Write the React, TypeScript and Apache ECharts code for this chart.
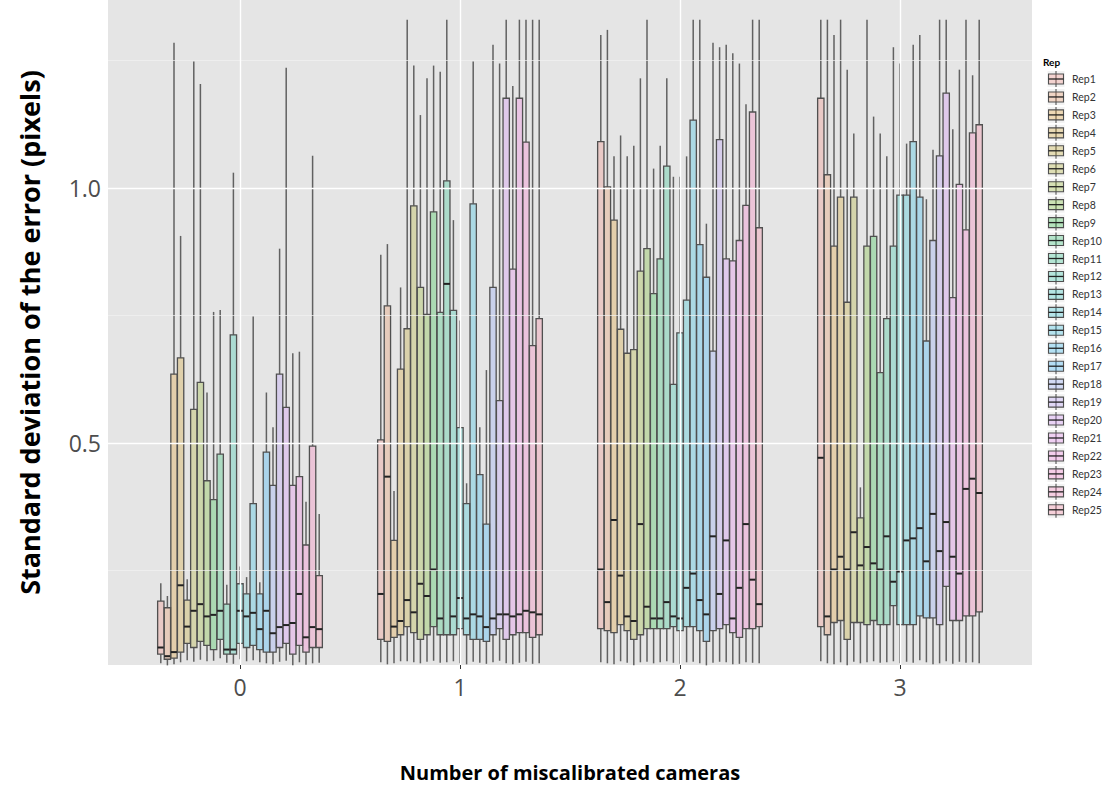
import React, { useEffect, useRef } from "react";
import * as echarts from "echarts";

// ---------- data ----------
const CATEGORIES = ["0", "1", "2", "3"];
const REPS = [
  "Rep1", "Rep2", "Rep3", "Rep4", "Rep5", "Rep6", "Rep7", "Rep8", "Rep9", "Rep10",
  "Rep11", "Rep12", "Rep13", "Rep14", "Rep15", "Rep16", "Rep17", "Rep18", "Rep19", "Rep20",
  "Rep21", "Rep22", "Rep23", "Rep24", "Rep25",
];
const X_TICKS = [0, 1, 2, 3];
const Y_TICKS = [0.5, 1.0];
const Y_MINOR = [0.25, 0.75, 1.25];

// [lower whisker, Q1, median, Q3, upper whisker] per Rep
const GROUP0_STATS = [
  [0.068, 0.086, 0.099, 0.190, 0.225],
  [0.064, 0.076, 0.082, 0.177, 0.200],
  [0.066, 0.078, 0.090, 0.635, 1.285],
  [0.070, 0.090, 0.221, 0.667, 0.906],
  [0.074, 0.107, 0.140, 0.192, 0.233],
  [0.071, 0.099, 0.171, 0.566, 1.248],
  [0.075, 0.111, 0.184, 0.619, 1.204],
  [0.072, 0.103, 0.160, 0.426, 0.599],
  [0.073, 0.095, 0.163, 0.389, 0.757],
  [0.078, 0.115, 0.171, 0.478, 0.761],
  [0.069, 0.086, 0.095, 0.184, 0.222],
  [0.067, 0.086, 0.095, 0.712, 1.030],
  [0.076, 0.107, 0.171, 0.224, 0.258],
  [0.072, 0.099, 0.160, 0.204, 0.237],
  [0.074, 0.103, 0.167, 0.381, 0.748],
  [0.070, 0.095, 0.135, 0.204, 0.227],
  [0.068, 0.090, 0.171, 0.482, 0.599],
  [0.066, 0.090, 0.127, 0.417, 0.531],
  [0.071, 0.099, 0.139, 0.635, 0.881],
  [0.073, 0.107, 0.143, 0.570, 1.236],
  [0.064, 0.086, 0.147, 0.417, 0.676],
  [0.070, 0.103, 0.204, 0.434, 0.679],
  [0.065, 0.090, 0.119, 0.300, 0.385],
  [0.068, 0.099, 0.139, 0.494, 1.063],
  [0.069, 0.099, 0.135, 0.240, 0.361],
];
const GROUP1_STATS = [
  [0.070, 0.115, 0.204, 0.506, 0.869],
  [0.066, 0.111, 0.434, 0.769, 0.890],
  [0.068, 0.119, 0.140, 0.309, 0.406],
  [0.072, 0.124, 0.151, 0.645, 0.805],
  [0.072, 0.140, 0.192, 0.724, 1.330],
  [0.070, 0.128, 0.168, 0.965, 1.240],
  [0.068, 0.115, 0.224, 0.805, 1.143],
  [0.071, 0.124, 0.200, 0.752, 1.215],
  [0.073, 0.140, 0.252, 0.953, 1.240],
  [0.069, 0.124, 0.156, 0.756, 1.228],
  [0.070, 0.124, 0.812, 1.014, 1.330],
  [0.072, 0.124, 0.160, 0.760, 0.937],
  [0.068, 0.136, 0.196, 0.530, 0.740],
  [0.066, 0.124, 0.156, 0.381, 0.421],
  [0.071, 0.115, 0.164, 0.969, 1.248],
  [0.069, 0.115, 0.160, 0.438, 0.531],
  [0.067, 0.111, 0.139, 0.341, 0.643],
  [0.070, 0.124, 0.156, 0.805, 1.281],
  [0.073, 0.136, 0.164, 0.583, 1.244],
  [0.068, 0.115, 0.164, 1.176, 1.330],
  [0.066, 0.124, 0.160, 0.841, 1.200],
  [0.069, 0.128, 0.164, 1.176, 1.330],
  [0.071, 0.128, 0.171, 1.090, 1.330],
  [0.067, 0.119, 0.168, 0.691, 1.330],
  [0.068, 0.124, 0.164, 0.744, 1.330],
];
const GROUP2_STATS = [
  [0.070, 0.136, 0.252, 1.091, 1.300],
  [0.068, 0.132, 0.188, 1.002, 1.310],
  [0.066, 0.128, 0.349, 0.937, 1.062],
  [0.072, 0.144, 0.240, 0.723, 1.103],
  [0.069, 0.132, 0.160, 0.676, 1.062],
  [0.064, 0.115, 0.151, 0.683, 1.083],
  [0.070, 0.124, 0.341, 0.837, 1.215],
  [0.071, 0.136, 0.179, 0.881, 1.330],
  [0.068, 0.136, 0.156, 0.793, 1.038],
  [0.070, 0.136, 0.156, 0.861, 1.083],
  [0.072, 0.136, 0.188, 1.043, 1.215],
  [0.069, 0.140, 0.160, 0.615, 1.022],
  [0.067, 0.132, 0.156, 0.716, 1.022],
  [0.070, 0.140, 0.216, 0.780, 1.062],
  [0.071, 0.140, 0.244, 1.133, 1.330],
  [0.068, 0.132, 0.192, 0.889, 1.330],
  [0.064, 0.111, 0.164, 0.825, 0.930],
  [0.069, 0.132, 0.317, 0.680, 1.285],
  [0.071, 0.136, 0.204, 1.095, 1.276],
  [0.070, 0.144, 0.309, 0.861, 1.281],
  [0.066, 0.128, 0.156, 0.857, 1.264],
  [0.067, 0.119, 0.216, 0.897, 1.244],
  [0.070, 0.136, 0.341, 0.966, 1.164],
  [0.069, 0.136, 0.232, 1.149, 1.330],
  [0.068, 0.140, 0.184, 0.922, 1.330],
];
const GROUP3_STATS = [
  [0.072, 0.140, 0.471, 1.176, 1.330],
  [0.068, 0.124, 0.160, 1.026, 1.330],
  [0.066, 0.148, 0.252, 0.886, 1.300],
  [0.070, 0.152, 0.277, 0.982, 1.330],
  [0.064, 0.115, 0.252, 0.776, 1.232],
  [0.071, 0.148, 0.325, 0.982, 1.107],
  [0.068, 0.148, 0.260, 0.353, 0.413],
  [0.070, 0.144, 0.296, 0.886, 1.330],
  [0.072, 0.152, 0.264, 0.905, 1.140],
  [0.069, 0.144, 0.252, 0.638, 1.107],
  [0.070, 0.144, 0.317, 0.744, 1.062],
  [0.072, 0.181, 0.228, 0.886, 1.276],
  [0.068, 0.144, 0.248, 0.986, 1.244],
  [0.071, 0.144, 0.309, 0.986, 1.087],
  [0.069, 0.144, 0.313, 1.091, 1.281],
  [0.074, 0.161, 0.333, 0.982, 1.300],
  [0.070, 0.157, 0.268, 0.700, 0.978],
  [0.066, 0.157, 0.361, 0.897, 1.075],
  [0.068, 0.144, 0.288, 1.063, 1.330],
  [0.072, 0.219, 0.345, 1.186, 1.330],
  [0.067, 0.152, 0.277, 0.785, 1.115],
  [0.071, 0.152, 0.244, 1.007, 1.232],
  [0.069, 0.161, 0.410, 0.918, 1.330],
  [0.070, 0.161, 0.430, 1.108, 1.221],
  [0.068, 0.169, 0.402, 1.124, 1.330],
];
const GROUPS = [GROUP0_STATS, GROUP1_STATS, GROUP2_STATS, GROUP3_STATS];

// ---------- layout / style ----------
const GRID_LEFT = 108;
const GRID_TOP = 0;
const GRID_W = 924;
const GRID_H = 665;
const X_MIN = -0.6;
const X_MAX = 3.6;
const Y_MIN = 0.0647;
const Y_MAX = 1.3686;
const DODGE_TOTAL = 0.75;
const FONT = "'Open Sans', Lato, sans-serif";
const LEGEND_FONT = "Lato, 'Open Sans', sans-serif";

function hclColor(h: number, c: number, l: number): [number, number, number] {
  const hr = (h * Math.PI) / 180;
  const U = c * Math.cos(hr);
  const V = c * Math.sin(hr);
  const Xn = 95.047, Yn = 100, Zn = 108.883;
  const t = Xn + 15 * Yn + 3 * Zn;
  const un = (4 * Xn) / t, vn = (9 * Yn) / t;
  const Y = l > 8 ? Yn * Math.pow((l + 16) / 116, 3) : (Yn * l) / 903.3;
  const u = U / (13 * l) + un;
  const v = V / (13 * l) + vn;
  const X = (9 * Y * u) / (4 * v);
  const Z = (3 * Y) / v - X / 3 - 5 * Y;
  const lin = [
    3.240479 * X - 1.53715 * Y - 0.498535 * Z,
    -0.969256 * X + 1.875992 * Y + 0.041556 * Z,
    0.055648 * X - 0.204043 * Y + 1.057311 * Z,
  ].map((x) => x / 100);
  const g = lin.map((x) => {
    const s = x <= 0.0031308 ? 12.92 * x : 1.055 * Math.pow(x, 1 / 2.4) - 0.055;
    return Math.round(Math.min(1, Math.max(0, s)) * 255);
  });
  return [g[0], g[1], g[2]];
}

const HUE_COLORS = REPS.map((_, i) => hclColor(15 + (360 / REPS.length) * i, 100, 65));
const FILL = HUE_COLORS.map(([r, g, b]) => `rgba(${r},${g},${b},0.25)`);
const OUTLINE = "#505050";
const WHISKER = "#616161";
const MEDIAN = "#222222";

function buildOption() {
  const n = REPS.length;
  const slot = DODGE_TOTAL / n;
  const series: any[] = [];

  series.push({
    type: "line",
    data: [],
    z: 1,
    silent: true,
    markLine: {
      silent: true,
      symbol: "none",
      label: { show: false },
      animation: false,
      data: [
        ...Y_MINOR.map((v) => ({ yAxis: v, lineStyle: { color: "#f2f2f2", width: 0.7, type: "solid" } })),
        ...Y_TICKS.map((v) => ({ yAxis: v, lineStyle: { color: "#ffffff", width: 1.4, type: "solid" } })),
        ...X_TICKS.map((v) => ({ xAxis: v, lineStyle: { color: "#ffffff", width: 1.4, type: "solid" } })),
      ],
    },
  });

  REPS.forEach((name, r) => {
    series.push({
      type: "custom",
      name,
      z: 2,
      encode: { x: 0, y: [1, 2, 3, 4, 5] },
      data: GROUPS.map((g, gi) => [gi, ...g[r]]),
      renderItem: (params: any, api: any) => {
        const gx = api.value(0);
        const xc = gx + (r - (n - 1) / 2) * slot;
        const slotPx = api.size([slot, 0])[0];
        const bw = slotPx * 0.96;
        const pLow = api.coord([xc, api.value(1)]);
        const pQ1 = api.coord([xc, api.value(2)]);
        const pMed = api.coord([xc, api.value(3)]);
        const pQ3 = api.coord([xc, api.value(4)]);
        const pHigh = api.coord([xc, api.value(5)]);
        const px = pQ1[0];
        return {
          type: "group",
          children: [
            { type: "line", shape: { x1: px, y1: pHigh[1], x2: px, y2: pQ3[1] }, style: { stroke: WHISKER, lineWidth: 1.5 } },
            { type: "line", shape: { x1: px, y1: pQ1[1], x2: px, y2: pLow[1] }, style: { stroke: WHISKER, lineWidth: 1.5 } },
            {
              type: "rect",
              shape: { x: px - bw / 2, y: pQ3[1], width: bw, height: pQ1[1] - pQ3[1] },
              style: { fill: FILL[r], stroke: OUTLINE, lineWidth: 1.3 },
            },
            { type: "line", shape: { x1: px - bw / 2, y1: pMed[1], x2: px + bw / 2, y2: pMed[1] }, style: { stroke: MEDIAN, lineWidth: 2 } },
          ],
        };
      },
    });
  });

  // legend (ggplot style keys)
  const legendChildren: any[] = [
    { type: "text", x: 1043, y: 62, style: { text: "Rep", fontSize: 10, fontWeight: "bold", fontFamily: LEGEND_FONT, fill: "#000", verticalAlign: "middle" } },
  ];
  REPS.forEach((name, i) => {
    const cy = 79 + i * 17.95;
    const kx = 1047;
    const kw = 18;
    legendChildren.push(
      { type: "rect", shape: { x: kx, y: cy - 8.5, width: kw, height: 17 }, style: { fill: "#f2f2f2", stroke: "#fff", lineWidth: 1 } },
      { type: "line", shape: { x1: kx + kw / 2, y1: cy - 8, x2: kx + kw / 2, y2: cy + 8 }, style: { stroke: WHISKER, lineWidth: 1.2 } },
      { type: "rect", shape: { x: kx + 1.5, y: cy - 5, width: kw - 3, height: 10 }, style: { fill: FILL[i], stroke: OUTLINE, lineWidth: 1.1 } },
      { type: "line", shape: { x1: kx + 1.5, y1: cy, x2: kx + kw - 1.5, y2: cy }, style: { stroke: MEDIAN, lineWidth: 1.3 } },
      { type: "text", x: 1072, y: cy, style: { text: name, fontSize: 10.5, fontFamily: LEGEND_FONT, fill: "#333", verticalAlign: "middle" } }
    );
  });

  return {
    animation: false,
    backgroundColor: "#ffffff",
    grid: {
      left: GRID_LEFT,
      top: GRID_TOP,
      width: GRID_W,
      height: GRID_H,
      show: true,
      backgroundColor: "#e5e5e5",
      borderWidth: 0,
    },
    xAxis: {
      type: "value",
      min: X_MIN,
      max: X_MAX,
      splitLine: { show: false },
      axisLine: { show: false },
      axisTick: { show: true, customValues: X_TICKS, length: 4, lineStyle: { color: "#333" } },
      axisLabel: {
        customValues: X_TICKS,
        formatter: (v: number) => CATEGORIES[Math.round(v)] ?? "",
        fontSize: 23,
        color: "#4d4d4d",
        margin: 10,
        fontFamily: FONT,
      },
      name: "Number of miscalibrated cameras",
      nameLocation: "middle",
      nameGap: 97,
      nameTextStyle: { fontSize: 20, fontWeight: "bold", color: "#000", fontFamily: FONT },
    },
    yAxis: {
      type: "value",
      min: Y_MIN,
      max: Y_MAX,
      splitLine: { show: false },
      axisLine: { show: false },
      axisTick: { show: true, customValues: Y_TICKS, length: 4, lineStyle: { color: "#333" } },
      axisLabel: {
        customValues: Y_TICKS,
        formatter: (v: number) => v.toFixed(1),
        fontSize: 23,
        color: "#4d4d4d",
        margin: 7,
        fontFamily: FONT,
      },
      name: "Standard deviation of the error (pixels)",
      nameLocation: "middle",
      nameGap: 65,
      nameTextStyle: { fontSize: 27, fontWeight: "bold", color: "#000", fontFamily: FONT },
    },
    graphic: [{ type: "group", children: legendChildren }],
    series,
  };
}

export default function App() {
  const ref = useRef<HTMLDivElement>(null);
  useEffect(() => {
    if (!ref.current) return;
    const chart = echarts.init(ref.current, null, { renderer: "svg" });
    chart.setOption(buildOption() as any);
    return () => chart.dispose();
  }, []);
  return (
    <div
      ref={ref}
      style={{ position: "fixed", left: 0, top: 0, width: 1119, height: 794, background: "#fff" }}
    />
  );
}
